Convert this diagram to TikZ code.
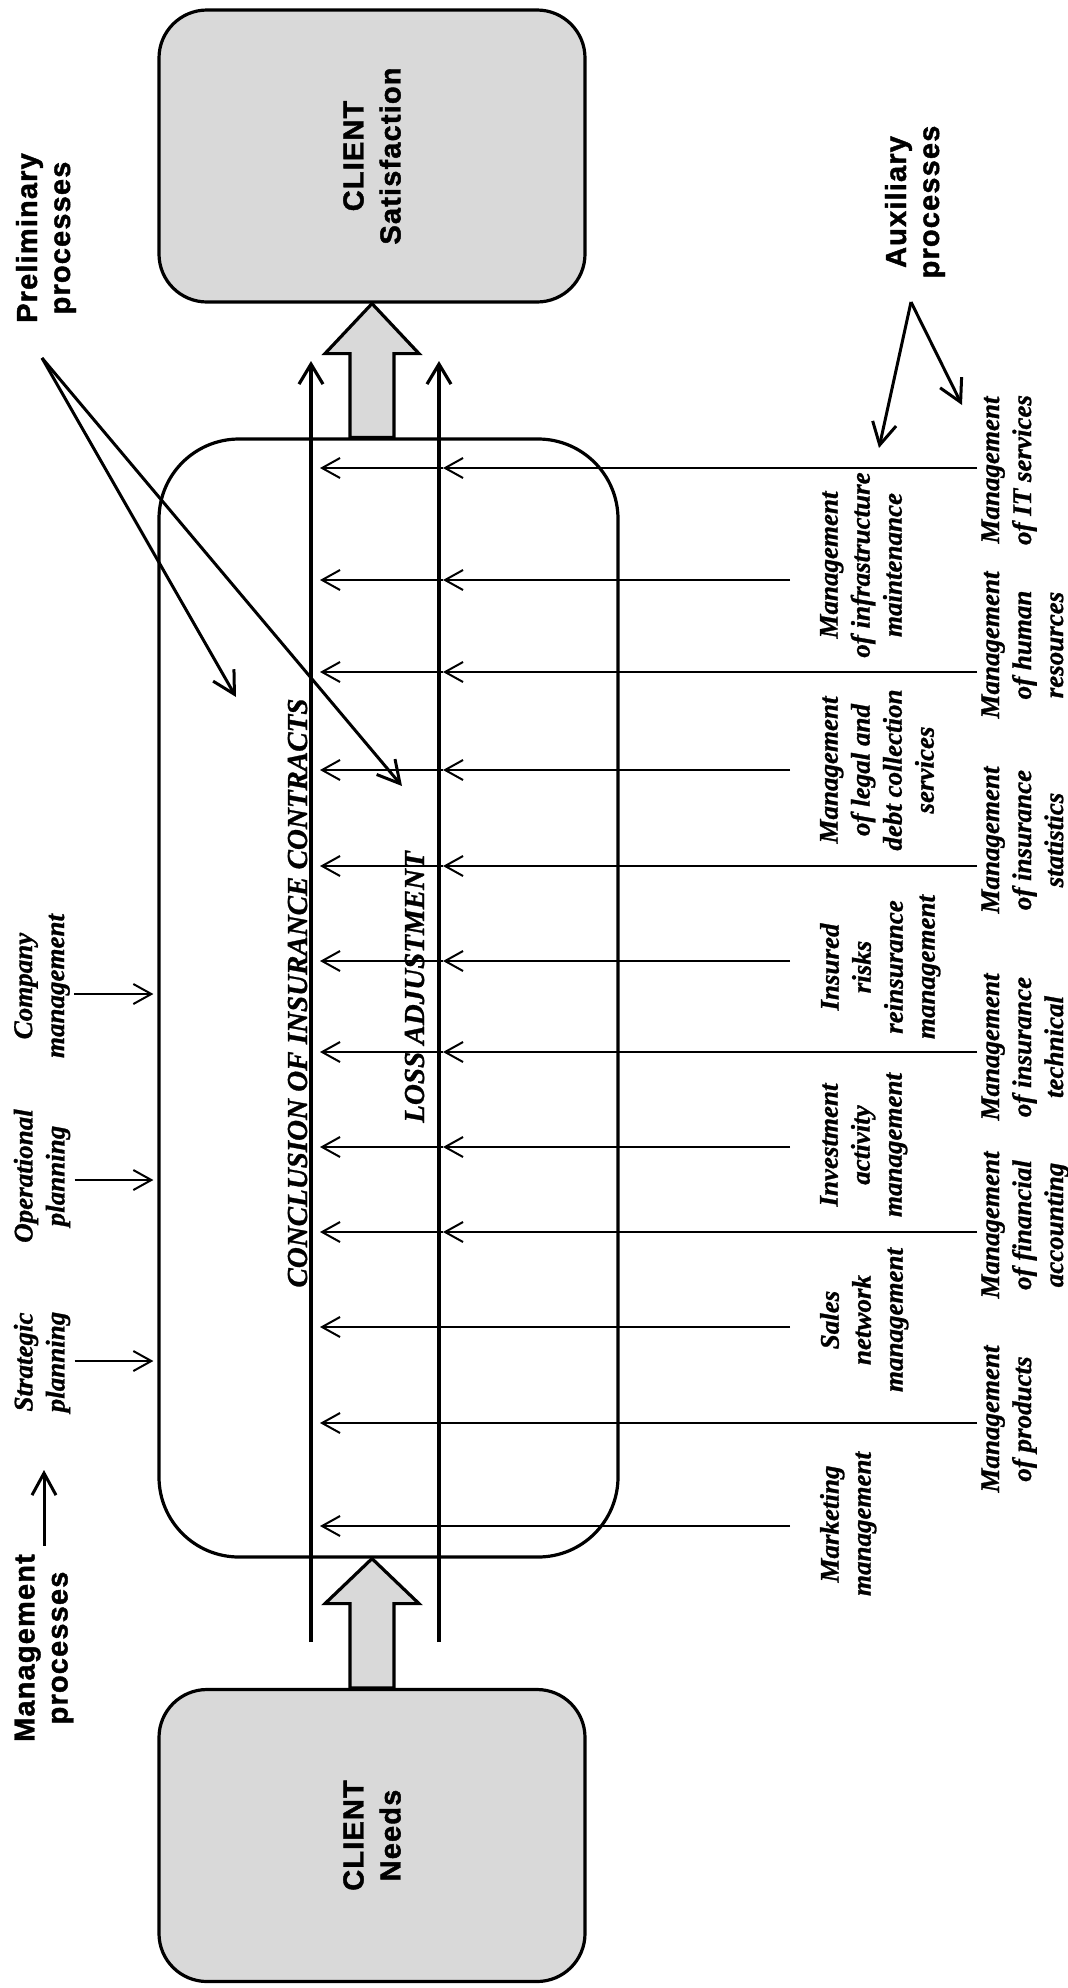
\documentclass[tikz,border=0pt]{standalone}
\usepackage{fontspec}
\setmainfont{Liberation Serif}[BoldItalicFeatures={FakeBold=1}]
\setsansfont{Liberation Sans}[BoldFeatures={FakeBold=1.5, LetterSpace=4}]
\usetikzlibrary{arrows.meta}
\usetikzlibrary{calc}
\usetikzlibrary{positioning}

\definecolor{boxgray}{RGB}{217,217,217}

\tikzset{
  lbl/.style={rotate=90, align=center, inner sep=2pt,
    font=\fontsize{13.5}{16}\selectfont\bfseries\itshape},
  inlbl/.style={lbl, anchor=north, outer sep=13pt},
  outlbl/.style={lbl, anchor=north},
  head/.style={rotate=90, align=center, inner sep=2pt,
    font=\fontsize{14.5}{16.5}\selectfont\sffamily\bfseries},
  proctitle/.style={rotate=90, anchor=base, inner sep=0pt,
    font=\fontsize{14.5}{16}\selectfont\bfseries\itshape},
  client/.style={draw, line width=1.6pt, fill=boxgray, rounded corners=24pt,
    rotate=90, align=center, minimum width=146pt, minimum height=213pt,
    font=\fontsize{14.5}{18.5}\selectfont\sffamily\bfseries},
  procbox/.style={draw, line width=1.6pt, rounded corners=40pt,
    minimum width=229.5pt, minimum height=559pt},
  blockarr/.style={draw, line width=1.6pt, fill=boxgray, line join=miter},
  flow/.style={-{Straight Barb[length=10pt,width=12pt]}, line width=1.6pt},
  aux/.style={-{Straight Barb[length=9pt,width=10pt]}, line width=1pt},
  pointer/.style={-{Straight Barb[length=11pt,width=12pt]}, line width=1.5pt}
}

\begin{document}
\begin{tikzpicture}[x=0.5pt, y=-0.5pt]
\useasboundingbox (0,0) rectangle (1068,1988);

%Client boxes and process box
\node[client] (sat) at (372,156) {CLIENT\\Satisfaction};
\node[client] (needs) at (372,1835.5) {CLIENT\\Needs};
\node[procbox] (main) at (388.5,998) {};

\draw[blockarr] ($(needs.east)+(-22,0)$) -- ($(needs.east |- main.south)+(-22,45)$)
  -- ++(-25,0) -- (needs.east |- main.south) -- ++(47,45) -- ++(-25,0)
  -- ($(needs.east)+(22,0)$) -- cycle;
\draw[blockarr] ($(sat.west |- main.north)+(-22,0)$) -- ($(sat.west)+(-22,50)$)
  -- ++(-25,0) -- (sat.west) -- ++(47,50) -- ++(-25,0)
  -- ($(sat.west |- main.north)+(22,0)$) -- cycle;

%Main flows
\coordinate (c0) at (311,1642);
\coordinate (c1) at (311,361);
\coordinate (l0) at (439,1642);
\coordinate (l1) at (439,361);
\draw[flow] (c0) -- (c1);
\draw[flow] (l0) -- (l1);
\coordinate (ta) at (320,361);
\coordinate (tb) at (443,361);

\node[proctitle] (conc) at (307,993) {CONCLUSION OF INSURANCE CONTRACTS};
\node[proctitle] (loss) at (424,987) {LOSS ADJUSTMENT};

%Management processes
\foreach \nm/\ly/\ay/\txt in {strat/1362/1361/{Strategic\\planning},
    oper/1176/1180/{Operational\\planning}, comp/986/994/{Company\\management}} {
  \node[lbl] (\nm) at (42,\ly) {\txt};
  \draw[aux, shorten >=2pt] (\nm.south |- 0,\ay) -- (main.west |- 0,\ay);
}

%Auxiliary processes
\foreach \nm/\ly/\txt in {it/470/{Management\\of IT services},
    hr/645/{Management\\of human\\resources},
    stat/840/{Management\\of insurance\\statistics},
    tech/1047/{Management\\of insurance\\technical},
    fin/1225/{Management\\of financial\\accounting},
    prod/1419/{Management\\of products}} {
  \node[outlbl] (\nm) at (977,\ly) {\txt};
}
\foreach \nm/\ly/\txt in {infra/565/{Management\\of infrastructure\\maintenance},
    legal/770/{Management\\of legal and\\debt collection\\services},
    risk/967/{Insured\\risks\\reinsurance\\management},
    invest/1145/{Investment\\activity\\management},
    sales/1320/{Sales\\network\\management},
    mkt/1524/{Marketing\\management}} {
  \node[inlbl] (\nm) at (790,\ly) {\txt};
}

\foreach \nm/\ay in {it/468, infra/580, hr/672, legal/770, stat/866,
    risk/961, tech/1052, invest/1147, fin/1232} {
  \draw[aux] (\nm.north |- 0,\ay) -- (tb |- 0,\ay);
  \draw[aux] (tb |- 0,\ay) -- (ta |- 0,\ay);
}
\foreach \nm/\ay in {sales/1327, prod/1423, mkt/1526}
  \draw[aux] (\nm.north |- 0,\ay) -- (ta |- 0,\ay);

%Headings
\node[head] (pre) at (46,238) {Preliminary\\processes};
\coordinate (prefork) at (42,358);
\coordinate (pre1) at (236,697);
\coordinate (pre2) at (402,786);
\draw[pointer] (prefork) -- (pre1);
\draw[pointer] (prefork) -- (pre2);

\node[head] (auxp) at (915,202) {Auxiliary\\processes};
\coordinate (auxfork) at (911,302);
\coordinate (aux1) at (879,448);
\coordinate (aux2) at (962,405);
\draw[pointer] (auxfork) -- (aux1);
\draw[pointer] (auxfork) -- (aux2);

\node[head] (mgp) at (44,1648) {Management\\processes};
\coordinate (mgtip) at (42,1470);
\draw[pointer] ([yshift=2pt]mgp.east) -- (mgp.east |- mgtip);
\end{tikzpicture}
\end{document}
